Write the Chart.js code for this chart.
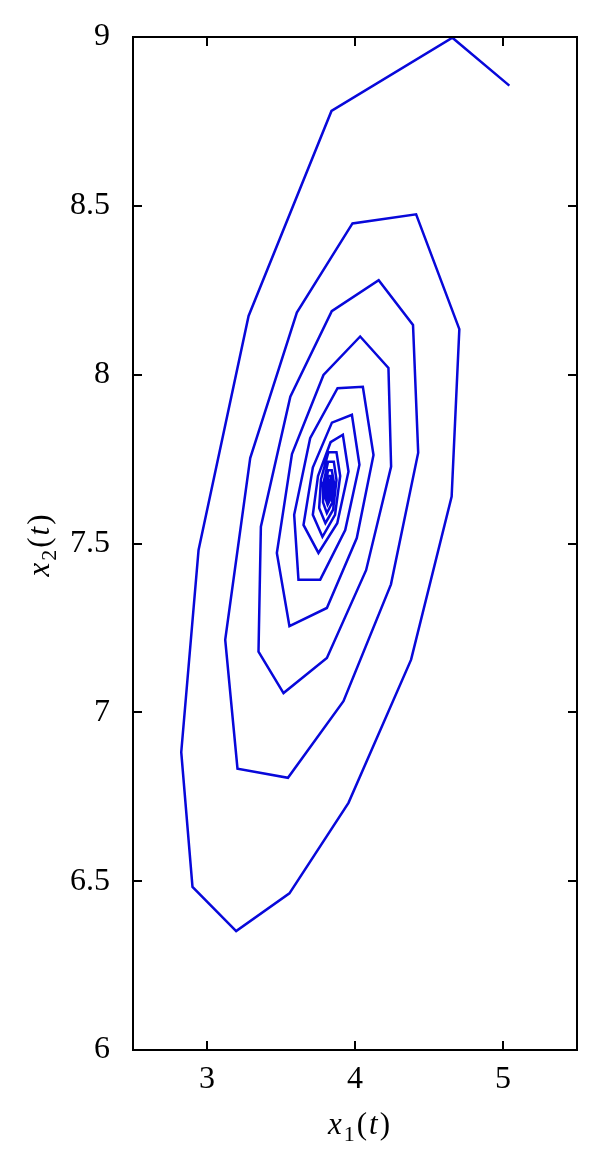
<!DOCTYPE html>
<html><head><meta charset="utf-8">
<script src="https://cdn.jsdelivr.net/npm/chart.js@4.4.1/dist/chart.umd.min.js"></script>
<style>html,body{margin:0;padding:0;background:#fff;}</style>
</head><body>
<canvas id="c" width="600" height="1168" style="display:block;width:600px;height:1168px"></canvas>
<script>
// Trajectory of (x1(t), x2(t))
const x1Values = [5.043,4.658,3.841,3.281,2.943,2.826,2.902,3.197,3.557,3.956,4.379,4.653,4.705,
4.413,3.983,3.607,3.292,3.123,3.206,3.547,3.922,4.243,4.427,4.392,
4.160,3.843,3.563,3.364,3.348,3.517,3.810,4.075,4.244,4.226,
4.035,3.787,3.574,3.472,3.557,3.810,4.012,4.125,4.053,
3.882,3.697,3.589,3.618,3.765,3.934,4.030,3.979,
3.844,3.715,3.652,3.753,3.880,3.956,3.918,
3.835,3.750,3.715,3.780,3.865,3.900,3.875,
3.820,3.770,3.758,3.800,3.852,3.875,3.857,
3.818,3.789,3.784,3.810,3.845,3.858,3.843,
3.818,3.801,3.799,3.815,3.838,3.846,3.836,
3.821,3.810,3.809,3.820,3.834,3.839,3.832,
3.822,3.815,3.815,3.823,3.831,3.834,3.829,
3.823,3.819,3.819,3.824,3.829,3.831,3.827,
3.824,3.821,3.821,3.825,3.828,3.829,3.826];
const x2Values = [8.856,8.998,8.781,8.174,7.481,6.882,6.483,6.352,6.464,6.732,7.156,7.639,8.135,
8.475,8.448,8.184,7.753,7.215,6.833,6.806,7.033,7.379,7.769,8.147,
8.280,8.188,7.935,7.550,7.180,7.057,7.161,7.421,7.728,8.020,
8.113,7.999,7.765,7.472,7.255,7.309,7.516,7.762,7.964,
7.960,7.812,7.585,7.393,7.393,7.540,7.733,7.881,
7.858,7.725,7.555,7.472,7.560,7.713,7.822,
7.800,7.700,7.585,7.520,7.585,7.700,7.770,
7.770,7.690,7.605,7.560,7.600,7.688,7.742,
7.742,7.683,7.622,7.590,7.620,7.680,7.717,
7.717,7.676,7.637,7.615,7.636,7.675,7.700,
7.700,7.672,7.646,7.631,7.645,7.671,7.689,
7.689,7.670,7.653,7.643,7.652,7.670,7.681,
7.681,7.668,7.657,7.650,7.657,7.668,7.675,
7.675,7.667,7.660,7.655,7.660,7.667,7.671];
const xTicks = [3, 4, 5];
const xTickLabels = ['3', '4', '5'];
const yTicks = [6, 6.5, 7, 7.5, 8, 8.5, 9];
const yTickLabels = ['6', '6.5', '7', '7.5', '8', '8.5', '9'];
const xRange = [2.5, 5.5];
const yRange = [6, 9];

const points = x1Values.map((v, i) => ({x: v, y: x2Values[i]}));
const SERIF = '"Liberation Serif", "DejaVu Serif", serif';
const GAP = 2;

function measureMath(ctx, parts, size) {
  let w = 0;
  parts.forEach((p, i) => {
    ctx.font = (p[1] ? 'italic ' : '') + Math.round(size * p[2]) + 'px ' + SERIF;
    w += ctx.measureText(p[0]).width + (i < parts.length - 1 ? GAP : 0);
  });
  return w;
}
function renderMath(ctx, parts, size, x0, baseline) {
  let x = x0;
  parts.forEach(p => {
    ctx.font = (p[1] ? 'italic ' : '') + Math.round(size * p[2]) + 'px ' + SERIF;
    ctx.fillText(p[0], x, baseline + p[3] * size);
    x += ctx.measureText(p[0]).width + GAP;
  });
}

const framePlugin = {
  id: 'frame',
  afterDraw(chart) {
    const {ctx, chartArea: a, scales: {x, y}} = chart;
    ctx.save();
    ctx.strokeStyle = '#000';
    ctx.lineWidth = 2;
    ctx.strokeRect(a.left, a.top, a.right - a.left, a.bottom - a.top);
    const L = 9;
    ctx.beginPath();
    xTicks.forEach(v => {
      const px = Math.round(x.getPixelForValue(v));
      ctx.moveTo(px, a.bottom); ctx.lineTo(px, a.bottom - L);
      ctx.moveTo(px, a.top); ctx.lineTo(px, a.top + L);
    });
    yTicks.forEach(v => {
      const py = Math.round(y.getPixelForValue(v));
      ctx.moveTo(a.left, py); ctx.lineTo(a.left + L, py);
      ctx.moveTo(a.right, py); ctx.lineTo(a.right - L, py);
    });
    ctx.stroke();

    // axis titles
    ctx.fillStyle = '#000';
    ctx.textBaseline = 'alphabetic';
    ctx.textAlign = 'left';
    const size = 31;
    const p1 = [['x', true, 1, 0], ['1', false, 0.72, 0.22], ['(', false, 1, 0], ['t', true, 1, 0], [')', false, 1, 0]];
    const p2 = [['x', true, 1, 0], ['2', false, 0.72, 0.22], ['(', false, 1, 0], ['t', true, 1, 0], [')', false, 1, 0]];
    const w1 = measureMath(ctx, p1, size);
    const cx = (a.left + a.right) / 2 + 4;
    renderMath(ctx, p1, size, cx - w1 / 2, 1134);
    const w2 = measureMath(ctx, p2, size);
    const cy = (a.top + a.bottom) / 2 + 2;
    ctx.translate(49, cy);
    ctx.rotate(-Math.PI / 2);
    renderMath(ctx, p2, size, -w2 / 2, 0);
    ctx.restore();
  }
};

new Chart(document.getElementById('c'), {
  type: 'scatter',
  data: {
    datasets: [{
      data: points,
      showLine: true,
      borderColor: 'rgb(8,8,218)',
      borderWidth: 2.5,
      pointRadius: 0,
      pointHoverRadius: 0,
      tension: 0,
      fill: false
    }]
  },
  options: {
    responsive: false,
    animation: false,
    devicePixelRatio: 1,
    layout: {padding: {top: 37, right: 23, left: 0, bottom: 0}},
    plugins: {legend: {display: false}, tooltip: {enabled: false}},
    scales: {
      x: {
        type: 'linear', min: xRange[0], max: xRange[1],
        afterBuildTicks: s => { s.ticks = xTicks.map(v => ({value: v})); },
        afterFit: s => { s.height = 118; },
        grid: {display: false}, border: {display: false},
        ticks: {
          color: '#000', padding: 2,
          font: {family: SERIF, size: 32},
          callback: v => xTickLabels[xTicks.indexOf(v)] ?? ''
        }
      },
      y: {
        type: 'linear', min: yRange[0], max: yRange[1],
        afterBuildTicks: s => { s.ticks = yTicks.map(v => ({value: v})); },
        afterFit: s => { s.width = 133; },
        grid: {display: false}, border: {display: false},
        ticks: {
          color: '#000', padding: 15,
          font: {family: SERIF, size: 32},
          callback: v => yTickLabels[yTicks.indexOf(v)] ?? ''
        }
      }
    }
  },
  plugins: [framePlugin]
});
</script>
</body></html>
